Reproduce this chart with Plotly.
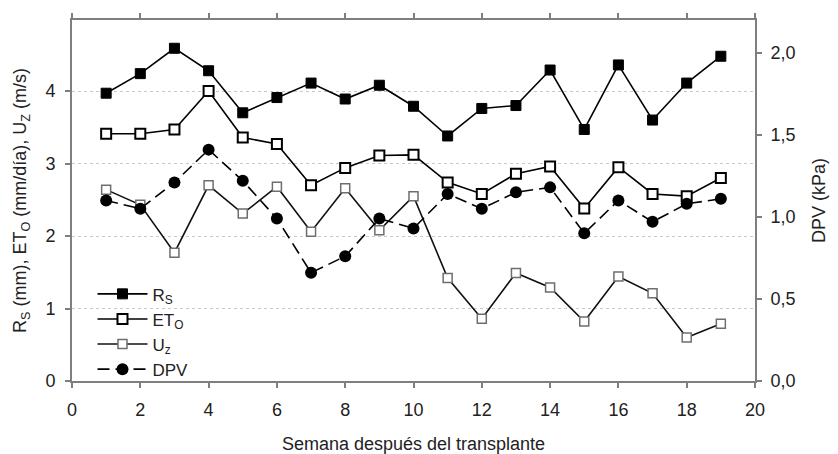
import plotly.graph_objects as go

semana = list(range(1, 20))
rs = [3.97, 4.24, 4.59, 4.28, 3.70, 3.91, 4.11, 3.89, 4.08, 3.79,
      3.38, 3.76, 3.80, 4.29, 3.47, 4.36, 3.60, 4.11, 4.48]
eto = [3.41, 3.41, 3.47, 4.00, 3.36, 3.27, 2.70, 2.94, 3.11, 3.12,
       2.74, 2.58, 2.86, 2.96, 2.38, 2.95, 2.58, 2.55, 2.80]
uz = [2.64, 2.43, 1.77, 2.70, 2.31, 2.68, 2.06, 2.66, 2.08, 2.55,
      1.42, 0.86, 1.49, 1.29, 0.82, 1.44, 1.21, 0.60, 0.79]
dpv = [1.10, 1.05, 1.21, 1.41, 1.22, 0.99, 0.66, 0.76, 0.99, 0.93,
       1.14, 1.05, 1.15, 1.18, 0.90, 1.10, 0.97, 1.08, 1.11]

x_ticks = list(range(0, 21, 2))
y_ticks = [0, 1, 2, 3, 4]
y2_ticks = [0, 0.5, 1.0, 1.5, 2.0]

FONT = "Liberation Sans, Arial, sans-serif"
TXT = "#222222"
AX = "#7f7f7f"
FS = 18

fig = go.Figure()
fig.add_trace(go.Scatter(
    x=semana, y=rs, name="R<sub>S</sub>", mode="lines+markers",
    line=dict(color="black", width=1.6),
    marker=dict(symbol="square", size=10, color="black", line=dict(color="black", width=1))))
fig.add_trace(go.Scatter(
    x=semana, y=eto, name="ET<sub>O</sub>", mode="lines+markers",
    line=dict(color="black", width=1.6),
    marker=dict(symbol="square", size=10, color="white", line=dict(color="black", width=2))))
fig.add_trace(go.Scatter(
    x=semana, y=uz, name="U<sub>z</sub>", mode="lines+markers",
    line=dict(color="#111111", width=1.6),
    marker=dict(symbol="square", size=9, color="white", line=dict(color="#6e6e6e", width=1.5))))
fig.add_trace(go.Scatter(
    x=semana, y=dpv, name="DPV", mode="lines+markers", yaxis="y2",
    line=dict(color="black", width=1.6, dash="12px,6px"),
    marker=dict(symbol="circle", size=12, color="black")))

fig.update_layout(
    width=838, height=454,
    margin=dict(l=72, r=83, t=20, b=73, autoexpand=False),
    paper_bgcolor="white", plot_bgcolor="white",
    separators=",.",
    font=dict(family=FONT, size=FS, color=TXT),
    showlegend=True,
    legend=dict(x=0.03, y=0.29, xanchor="left", yanchor="top",
                bgcolor="rgba(0,0,0,0)", font=dict(size=17, color=TXT),
                tracegroupgap=0, itemwidth=50),
    xaxis=dict(range=[0, 20], tickvals=x_ticks, showgrid=False, zeroline=False,
               automargin=False,
               showline=True, linecolor=AX, linewidth=2, mirror="ticks",
               ticks="outside", ticklen=5, tickcolor=AX, tickwidth=1.5,
               ticklabelstandoff=6,
               tickfont=dict(size=FS, color=TXT),
               title=dict(text="Semana después del transplante", font=dict(size=FS, color=TXT), standoff=20)),
    yaxis=dict(range=[0, 4.98], tickvals=y_ticks, showgrid=True, gridcolor="#c8c8c8",
               griddash="dot", gridwidth=1, zeroline=False, automargin=False,
               showline=True, linecolor=AX, linewidth=2,
               ticks="outside", ticklen=5, tickcolor=AX, tickwidth=1.5,
               ticklabelstandoff=6,
               tickfont=dict(size=FS, color=TXT),
               title=dict(text="R<sub>S</sub> (mm), ET<sub>O</sub> (mm/día), U<sub>Z</sub> (m/s)",
                          font=dict(size=FS, color=TXT), standoff=14)),
    yaxis2=dict(range=[0, 2.2], tickvals=y2_ticks, tickformat=".1f", overlaying="y", side="right",
                showgrid=False, zeroline=False, showline=True, linecolor=AX, linewidth=2,
                automargin=False,
                ticks="outside", ticklen=5, tickcolor=AX, tickwidth=1.5,
                ticklabelstandoff=5,
                tickfont=dict(size=FS, color=TXT),
                title=dict(text="DPV (kPa)", font=dict(size=FS, color=TXT), standoff=18)),
)

fig.write_html("out.html")
